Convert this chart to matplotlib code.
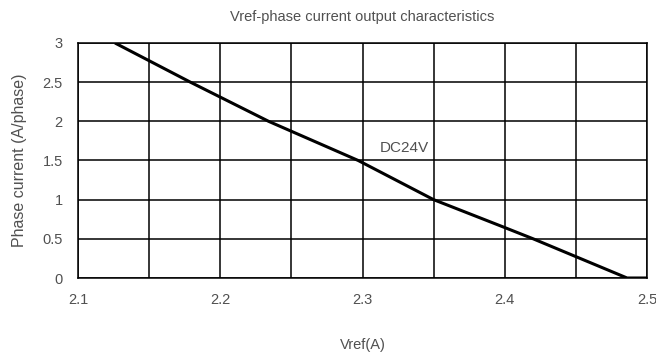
import matplotlib
matplotlib.use("Agg")
import matplotlib.pyplot as plt
import numpy as np

# Vref (V) vs phase current (A/phase)
vref = [2.126, 2.179, 2.234, 2.297, 2.35, 2.4, 2.42, 2.486, 2.5]
current = [3.0, 2.5, 2.0, 1.5, 1.0, 0.644, 0.5, 0.0, 0.0]

x_ticks = [2.1, 2.2, 2.3, 2.4, 2.5]
y_ticks = [0, 0.5, 1, 1.5, 2, 2.5, 3]
label = "DC24V"

plt.rcParams["font.family"] = ["Liberation Sans", "DejaVu Sans"]
text_color = "#505050"

fig = plt.figure(figsize=(6.56, 3.55), dpi=100)
ax = fig.add_axes([0.1189, 0.2169, 0.8674, 0.662])

ax.plot(vref, current, color="black", lw=2.2, solid_capstyle="butt", zorder=3)

ax.set_xlim(2.1, 2.5)
ax.set_ylim(0, 3)
grid_x = np.arange(2.1, 2.5001, 0.05)
ax.set_xticks(grid_x)
ax.set_xticklabels([f"{v:g}" if any(abs(v - t) < 1e-6 for t in x_ticks) else "" for v in grid_x])
ax.set_yticks(y_ticks)
ax.set_yticklabels([f"{v:g}" for v in y_ticks])
ax.grid(True, color="black", lw=1.1)
ax.tick_params(length=0, labelsize=10.5, labelcolor=text_color)
ax.tick_params(axis="x", pad=11)
ax.tick_params(axis="y", pad=11)
for s in ax.spines.values():
    s.set_color("black")
    s.set_linewidth(1.1)

ax.text(2.312, 1.66, label, fontsize=11, color=text_color, va="center", ha="left",
        bbox=dict(facecolor="white", edgecolor="none", pad=2), zorder=2)

ax.set_title("Vref-phase current output characteristics", fontsize=10.5,
             color=text_color, pad=16)
ax.set_xlabel("Vref(A)", fontsize=10.5, color=text_color, labelpad=22)
ax.set_ylabel("Phase current (A/phase)", fontsize=11.5, color=text_color, labelpad=11)

fig.savefig("out.png", dpi=100)
